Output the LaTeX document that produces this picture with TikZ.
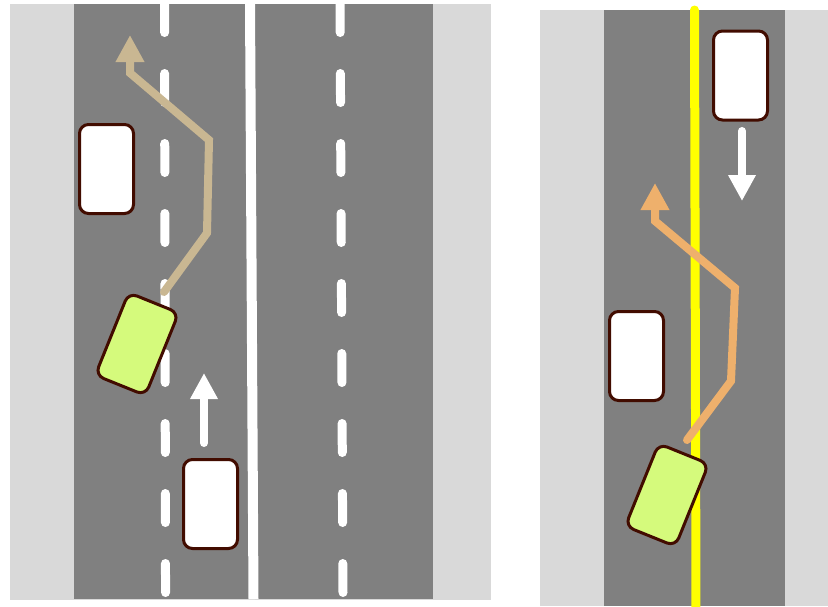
\documentclass[tikz,border=0pt]{standalone}
\usepackage{xcolor}
\definecolor{vergegray}{RGB}{217,217,217}
\definecolor{tarmac}{RGB}{128,128,128}
\definecolor{carline}{RGB}{66,12,0}
\definecolor{egofill}{RGB}{213,250,124}
\definecolor{pathtan}{RGB}{201,183,146}
\definecolor{pathorange}{RGB}{238,176,108}
\definecolor{midyellow}{RGB}{255,255,0}
\usepackage{tikz}
\usetikzlibrary{arrows.meta}

\begin{document}
\begin{tikzpicture}[
  x=1pt,y=-1pt,
  verge/.style={fill=vergegray},
  road/.style={fill=tarmac},
  car/.style={draw=carline,fill=white,line width=3pt,rounded corners=9pt,
    minimum width=54pt,minimum height=89pt,inner sep=0pt},
  egocar/.style={car,fill=egofill,rotate=-22},
  lanedash/.style={white,line width=9pt,line cap=round},
  move/.style={white,line width=8pt,line cap=round,-{Triangle[length=26pt,width=26pt]}},
  trail/.style={line width=8pt,line cap=round,-{Triangle[length=27pt,width=27pt]}}
]
\useasboundingbox (0,0) rectangle (828,606);
% left: two lanes each way
\fill[verge] (10,4) rectangle (491,600);
\fill[road] (74,4) rectangle (433,599);
\begin{scope}
  \clip (74,4) rectangle (433,599);
  \foreach \k in {0,...,8} {
    \draw[lanedash] ({164.5+0.12*\k},{70*\k+3.5}) -- ({164.6+0.12*\k},{70*\k+32.5});
    \draw[lanedash] ({340+0.35*\k},{70*\k+3.5}) -- ({340.2+0.35*\k},{70*\k+32.5});
  }
\end{scope}
\draw[white,line width=10pt] (250,4) -- (253.5,599);
\node[car] (parkedL) at (106.5,169) {};
\node[car] (behindL) at (210.5,504) {};
\node[egocar] (egoL) at (137,344) {};
\coordinate (upS) at (204,443);
\coordinate (upT) at (204,373);
\draw[move] (upS) -- (upT);
\coordinate (tL0) at (164,292);
\coordinate (tL1) at (207,233);
\coordinate (tL2) at (209,140);
\coordinate (tL3) at (130,73);
\coordinate (tL4) at (130,35);
\draw[trail,pathtan] (tL0) -- (tL1) -- (tL2) -- (tL3) -- (tL4);

% right: one lane each way
\fill[verge] (540,10) rectangle (828,606);
\fill[road] (604,10) rectangle (785,606);
\draw[midyellow,line width=9pt,line cap=round] (694.5,10) -- (696,612);
\node[car] (oncomingR) at (740.5,75.5) {};
\node[car] (parkedR) at (636.5,356) {};
\node[egocar] (egoR) at (667,495) {};
\coordinate (dnS) at (742,131);
\coordinate (dnT) at (742,201);
\draw[move] (dnS) -- (dnT);
\coordinate (tR0) at (687,440);
\coordinate (tR1) at (731,381);
\coordinate (tR2) at (735,288);
\coordinate (tR3) at (655,221);
\coordinate (tR4) at (655,183);
\draw[trail,pathorange] (tR0) -- (tR1) -- (tR2) -- (tR3) -- (tR4);
\end{tikzpicture}
\end{document}
